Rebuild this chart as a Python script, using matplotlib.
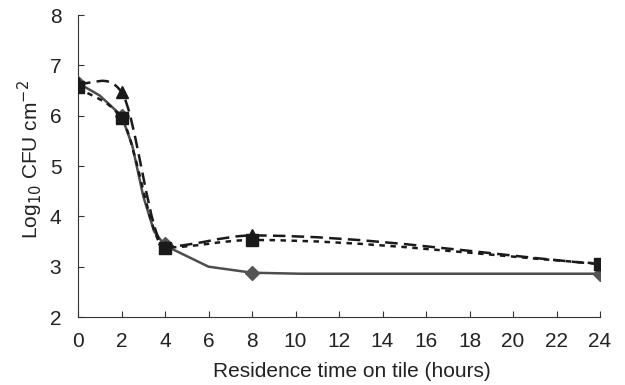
import matplotlib.pyplot as plt
import numpy as np
from matplotlib.path import Path
from matplotlib.patches import PathPatch

plt.rcParams['font.family'] = ['Liberation Sans', 'DejaVu Sans']

hours = [0, 2, 4, 8, 24]
diamond = [6.65, 6.0, 3.45, 2.88, 2.85]
triangle = [6.65, 6.47, 3.40, 3.62, 3.05]
square = [6.56, 5.95, 3.38, 3.53, 3.06]

# solid line vertices
solid_x = [0, 1, 2, 2.5, 3, 3.5, 4, 6, 8, 10.2, 24]
solid_y = [6.65, 6.40, 6.0, 5.40, 4.40, 3.70, 3.42, 3.0, 2.88, 2.86, 2.86]


def smooth_path(x, y, tension=0.75):
    # Hermite spline as cubic Bezier, slope zero at local extrema
    x = np.asarray(x, float)
    y = np.asarray(y, float)
    n = len(x)
    m = np.zeros(n)
    for i in range(n):
        if i == 0:
            m[i] = (y[1] - y[0]) / (x[1] - x[0])
        elif i == n - 1:
            m[i] = (y[-1] - y[-2]) / (x[-1] - x[-2])
        else:
            a = y[i] - y[i - 1]
            b = y[i + 1] - y[i]
            if a * b <= 0:
                m[i] = 0
            else:
                m[i] = tension * (y[i + 1] - y[i - 1]) / (x[i + 1] - x[i - 1])
    verts = [(x[0], y[0])]
    codes = [Path.MOVETO]
    for i in range(n - 1):
        h = x[i + 1] - x[i]
        verts += [(x[i] + h / 3, y[i] + m[i] * h / 3),
                  (x[i + 1] - h / 3, y[i + 1] - m[i + 1] * h / 3),
                  (x[i + 1], y[i + 1])]
        codes += [Path.CURVE4] * 3
    return Path(verts, codes)


fig = plt.figure(figsize=(6.25, 3.85), dpi=100)
ax = fig.add_axes([0.1248, 0.1766, 0.8352, 0.7844])

ax.plot(solid_x, solid_y, color='#4d4d4d', lw=1.8, zorder=2)
ax.plot(hours, diamond, ls='none', marker='D', ms=7.5, color='#555555', zorder=3)

ax.add_patch(PathPatch(smooth_path(hours, triangle), fill=False, ec='#1a1a1a',
                       lw=1.8, ls=(0, (5, 2.5)), zorder=4))
ax.plot(hours, triangle, ls='none', marker='^', ms=9, color='#1a1a1a', zorder=5)

ax.add_patch(PathPatch(smooth_path(hours, square), fill=False, ec='#1a1a1a',
                       lw=1.8, ls=(0, (2.2, 2.2)), zorder=6))
ax.plot(hours, square, ls='none', marker='s', ms=9, color='#1a1a1a', zorder=7)

ax.set_xlim(0, 24)
ax.set_ylim(2, 8)
ax.set_xticks(range(0, 25, 2))
ax.set_yticks(range(2, 9))
ax.spines['top'].set_visible(False)
ax.spines['right'].set_visible(False)
for s in ['left', 'bottom']:
    ax.spines[s].set_color('#333333')
ax.tick_params(direction='in', length=4, color='#333333', labelsize=15,
               labelcolor='#222222')
ax.tick_params(axis='x', pad=11)
ax.tick_params(axis='y', pad=12)
ax.set_xlabel('Residence time on tile (hours)', fontsize=15, color='#222222')
ax.set_ylabel('Log$_{10}$ CFU cm$^{-2}$', fontsize=15, color='#222222')
ax.xaxis.set_label_coords(0.524, -0.15)
ax.yaxis.set_label_coords(-0.063, 0.52)

plt.savefig('out.png', dpi=100)
